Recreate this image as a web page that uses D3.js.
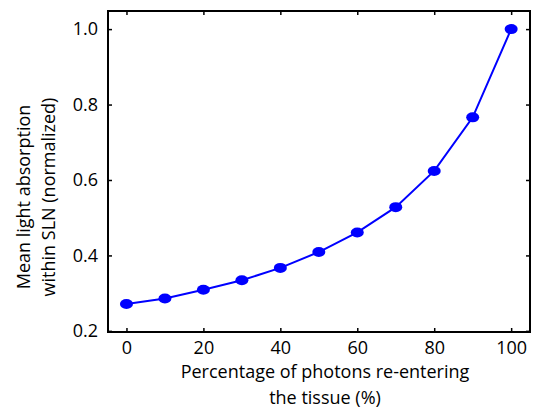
<!DOCTYPE html>
<head>
    <meta charset="utf-8">
    <script src="https://d3js.org/d3.v7.min.js"></script>
    <style>
        body { margin: 0; background: #fff; }
        text { font-family: "Open Sans", sans-serif; fill: #000; }
    </style>
</head>
<body>
<svg width="534" height="409"></svg>
<script>

    // data
    var percent = [0, 10, 20, 30, 40, 50, 60, 70, 80, 90, 100];
    var absorption = [0.271, 0.286, 0.309, 0.334, 0.367, 0.409, 0.461, 0.528, 0.624, 0.766, 1.0];
    var xTicks = [0, 20, 40, 60, 80, 100];
    var yTicks = [0.2, 0.4, 0.6, 0.8, 1.0];

    var svg = d3.select("svg"),
        margin = {top: 11, right: 4, bottom: 77, left: 108},
        width = +svg.attr("width") - margin.left - margin.right,
        height = +svg.attr("height") - margin.top - margin.bottom,
        g = svg.append("g").attr("transform", "translate(" + margin.left + "," + margin.top + ")");

    var x = d3.scaleLinear().domain([-4.8, 104.9]).range([0, width]);
    var y = d3.scaleLinear().domain([0.197, 1.048]).range([height, 0]);

    // axes, ticks pointing inward
    var xAxis = g.append("g")
        .attr("transform", "translate(0," + height + ")")
        .call(d3.axisBottom(x).tickValues(xTicks).tickSizeInner(-4).tickSizeOuter(0).tickPadding(9));
    var xTop = g.append("g")
        .call(d3.axisTop(x).tickValues(xTicks).tickSizeInner(-4).tickSizeOuter(0).tickFormat(""));
    var yAxis = g.append("g")
        .call(d3.axisLeft(y).tickValues(yTicks).tickSizeInner(-4).tickSizeOuter(0).tickPadding(10)
            .tickFormat(d3.format(".1f")));
    var yRight = g.append("g")
        .attr("transform", "translate(" + width + ",0)")
        .call(d3.axisRight(y).tickValues(yTicks).tickSizeInner(-4).tickSizeOuter(0).tickFormat(""));

    [xAxis, xTop, yAxis, yRight].forEach(function(a) {
        a.select(".domain").remove();
        a.selectAll("line").attr("stroke", "#000").attr("stroke-width", 1.5);
        a.selectAll("text").attr("font-size", 18).attr("font-family", "Open Sans, sans-serif");
    });

    // box
    g.append("rect")
        .attr("width", width)
        .attr("height", height)
        .attr("fill", "none")
        .attr("stroke", "#000")
        .attr("stroke-width", 2);

    var line = d3.line()
        .x(function(d, i) { return x(percent[i]); })
        .y(function(d) { return y(d); });

    g.append("path")
        .datum(absorption)
        .attr("d", line)
        .attr("fill", "none")
        .attr("stroke", "#0000ff")
        .attr("stroke-width", 2);

    g.selectAll("dot")
        .data(absorption)
        .enter()
        .append("ellipse")
        .attr("cx", function(d, i) { return x(percent[i]); })
        .attr("cy", function(d) { return y(d); })
        .attr("rx", 6.5)
        .attr("ry", 5)
        .attr("fill", "#0000ff");

    // axis titles
    var xt = svg.append("text")
        .attr("text-anchor", "middle")
        .attr("font-size", 18);
    xt.append("tspan").attr("x", 325).attr("y", 378).text("Percentage of photons re-entering");
    xt.append("tspan").attr("x", 325).attr("y", 404).text("the tissue (%)");

    var yt = svg.append("text")
        .attr("transform", "translate(0,197) rotate(-90)")
        .attr("text-anchor", "middle")
        .attr("font-size", 18);
    yt.append("tspan").attr("x", 0).attr("y", 30).text("Mean light absorption");
    yt.append("tspan").attr("x", 0).attr("y", 55).text("within SLN (normalized)");

</script>
</body>
